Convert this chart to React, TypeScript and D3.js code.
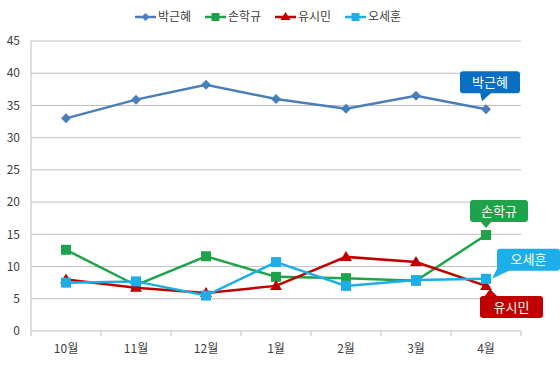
import React, { useEffect, useRef } from 'react';
import * as d3 from 'd3';

const months = ['10월', '11월', '12월', '1월', '2월', '3월', '4월'];
const parkValues = [33.0, 35.9, 38.2, 36.0, 34.5, 36.5, 34.4];
const sohnValues = [12.6, 7.1, 11.6, 8.4, 8.2, 7.8, 14.9];
const yooValues = [8.0, 6.7, 5.9, 7.0, 11.5, 10.7, 7.0];
const ohValues = [7.5, 7.7, 5.5, 10.7, 7.0, 7.9, 8.1];
const yTicks = [0, 5, 10, 15, 20, 25, 30, 35, 40, 45];

const series = [
  { name: '박근혜', values: parkValues, color: '#4A7EBB', marker: 'diamond' },
  { name: '손학규', values: sohnValues, color: '#1FA34A', marker: 'square' },
  { name: '유시민', values: yooValues, color: '#C00000', marker: 'triangle' },
  { name: '오세훈', values: ohValues, color: '#1CAEE8', marker: 'square' },
];

// callout boxes: color, box offset from the last point
const callouts = [
  { name: '박근혜', fill: '#0A6FC2', dx: -26, dy: -38, w: 60 },
  { name: '손학규', fill: '#1FA34A', dx: -16, dy: -35, w: 58 },
  { name: '오세훈', fill: '#1CAEE8', dx: 11, dy: -30, w: 63 },
  { name: '유시민', fill: '#C00000', dx: -6, dy: 10, w: 63 },
];

export default function App() {
  const svgRef = useRef<SVGSVGElement | null>(null);
  const width = 560;
  const height = 366;
  const marginLeft = 31;
  const marginRight = 39;
  const marginTop = 41;
  const marginBottom = 35;

  useEffect(() => {
    const svg = d3.select(svgRef.current);
    svg.selectAll('*').remove();
    const font = "'Malgun Gothic', 'Noto Sans CJK KR', sans-serif";

    const x = d3.scaleBand().domain(months).range([marginLeft, width - marginRight]);
    const y = d3.scaleLinear().domain([0, 45]).range([height - marginBottom, marginTop]);
    const cx = (m: string) => (x(m) || 0) + x.bandwidth() / 2;

    // gridlines
    svg.append('g')
      .selectAll('line')
      .data(yTicks)
      .join('line')
      .attr('x1', marginLeft)
      .attr('x2', width - marginRight)
      .attr('y1', d => y(d))
      .attr('y2', d => y(d))
      .attr('stroke', '#BFBFBF')
      .attr('stroke-width', 1);

    // y axis line
    svg.append('line')
      .attr('x1', marginLeft).attr('x2', marginLeft)
      .attr('y1', marginTop).attr('y2', height - marginBottom)
      .attr('stroke', '#BFBFBF');

    // x axis ticks
    svg.append('g')
      .selectAll('line')
      .data(d3.range(months.length + 1))
      .join('line')
      .attr('x1', i => marginLeft + i * x.step())
      .attr('x2', i => marginLeft + i * x.step())
      .attr('y1', height - marginBottom)
      .attr('y2', height - marginBottom + 5)
      .attr('stroke', '#BFBFBF');

    svg.append('g')
      .selectAll('text')
      .data(yTicks)
      .join('text')
      .attr('x', marginLeft - 11)
      .attr('y', d => y(d))
      .attr('dy', '0.35em')
      .attr('text-anchor', 'end')
      .attr('font-size', 12)
      .attr('font-family', font)
      .attr('fill', '#404040')
      .text(d => d);

    svg.append('g')
      .selectAll('text')
      .data(months)
      .join('text')
      .attr('x', d => cx(d))
      .attr('y', height - marginBottom + 22)
      .attr('text-anchor', 'middle')
      .attr('font-size', 12)
      .attr('font-family', font)
      .attr('fill', '#404040')
      .text(d => d);

    const line = d3.line<number>()
      .x((_, i) => cx(months[i]))
      .y(d => y(d));

    const drawMarker = (g: any, type: string, color: string, px: number, py: number, r = 5) => {
      if (type === 'diamond') {
        g.append('path')
          .attr('d', `M${px},${py - r}L${px + r},${py}L${px},${py + r}L${px - r},${py}Z`)
          .attr('fill', color);
      } else if (type === 'square') {
        g.append('rect')
          .attr('x', px - r).attr('y', py - r)
          .attr('width', 2 * r).attr('height', 2 * r)
          .attr('fill', color);
      } else {
        g.append('path')
          .attr('d', `M${px},${py - r - 1}L${px + r + 1},${py + r - 1}L${px - r - 1},${py + r - 1}Z`)
          .attr('fill', color);
      }
    };

    series.forEach(s => {
      const g = svg.append('g');
      g.append('path')
        .datum(s.values)
        .attr('fill', 'none')
        .attr('stroke', s.color)
        .attr('stroke-width', 2.5)
        .attr('d', line);
      s.values.forEach((v, i) => drawMarker(g, s.marker, s.color, cx(months[i]), y(v)));
    });

    // callouts
    const last = months.length - 1;
    callouts.forEach(c => {
      const s = series.find(d => d.name === c.name)!;
      const px = cx(months[last]);
      const py = y(s.values[last]);
      const bx = px + c.dx;
      const by = py + c.dy;
      const bh = 22;
      const g = svg.append('g');
      // pointer
      let tri: string;
      if (c.name === '박근혜') tri = `M${bx + 20},${by + bh - 1}L${bx + 32},${by + bh - 1}L${bx + 22},${by + bh + 8}Z`;
      else if (c.name === '손학규') tri = `M${bx + 10},${by + bh - 1}L${bx + 22},${by + bh - 1}L${bx + 16},${by + bh + 6}Z`;
      else if (c.name === '오세훈') tri = `M${bx + 2},${by + bh - 6}L${bx + 14},${by + bh - 1}L${px + 6},${py}Z`;
      else tri = `M${bx + 4},${by + 1}L${bx + 18},${by + 1}L${px + 4},${py + 3}Z`;
      g.append('path').attr('d', tri).attr('fill', c.fill);
      g.append('rect')
        .attr('x', bx).attr('y', by)
        .attr('width', c.w).attr('height', bh)
        .attr('rx', 3)
        .attr('fill', c.fill);
      g.append('text')
        .attr('x', bx + c.w / 2)
        .attr('y', by + bh / 2)
        .attr('dy', '0.36em')
        .attr('text-anchor', 'middle')
        .attr('font-size', 13)
        .attr('font-family', font)
        .attr('fill', '#fff')
        .text(c.name);
    });

    // legend
    const legend = svg.append('g');
    const itemX = [135, 205, 275, 345];
    series.forEach((s, i) => {
      const lx = itemX[i];
      const ly = 17;
      legend.append('line')
        .attr('x1', lx).attr('x2', lx + 21)
        .attr('y1', ly).attr('y2', ly)
        .attr('stroke', s.color).attr('stroke-width', 2.5);
      drawMarker(legend, s.marker, s.color, lx + 10.5, ly, 4);
      legend.append('text')
        .attr('x', lx + 23)
        .attr('y', ly)
        .attr('dy', '0.35em')
        .attr('font-size', 12)
        .attr('font-family', font)
        .attr('fill', '#404040')
        .text(s.name);
    });
  }, []);

  return (
    <svg ref={svgRef} width={width} height={height} style={{ position: 'absolute', left: 0, top: 0, background: '#fff' }} />
  );
}
